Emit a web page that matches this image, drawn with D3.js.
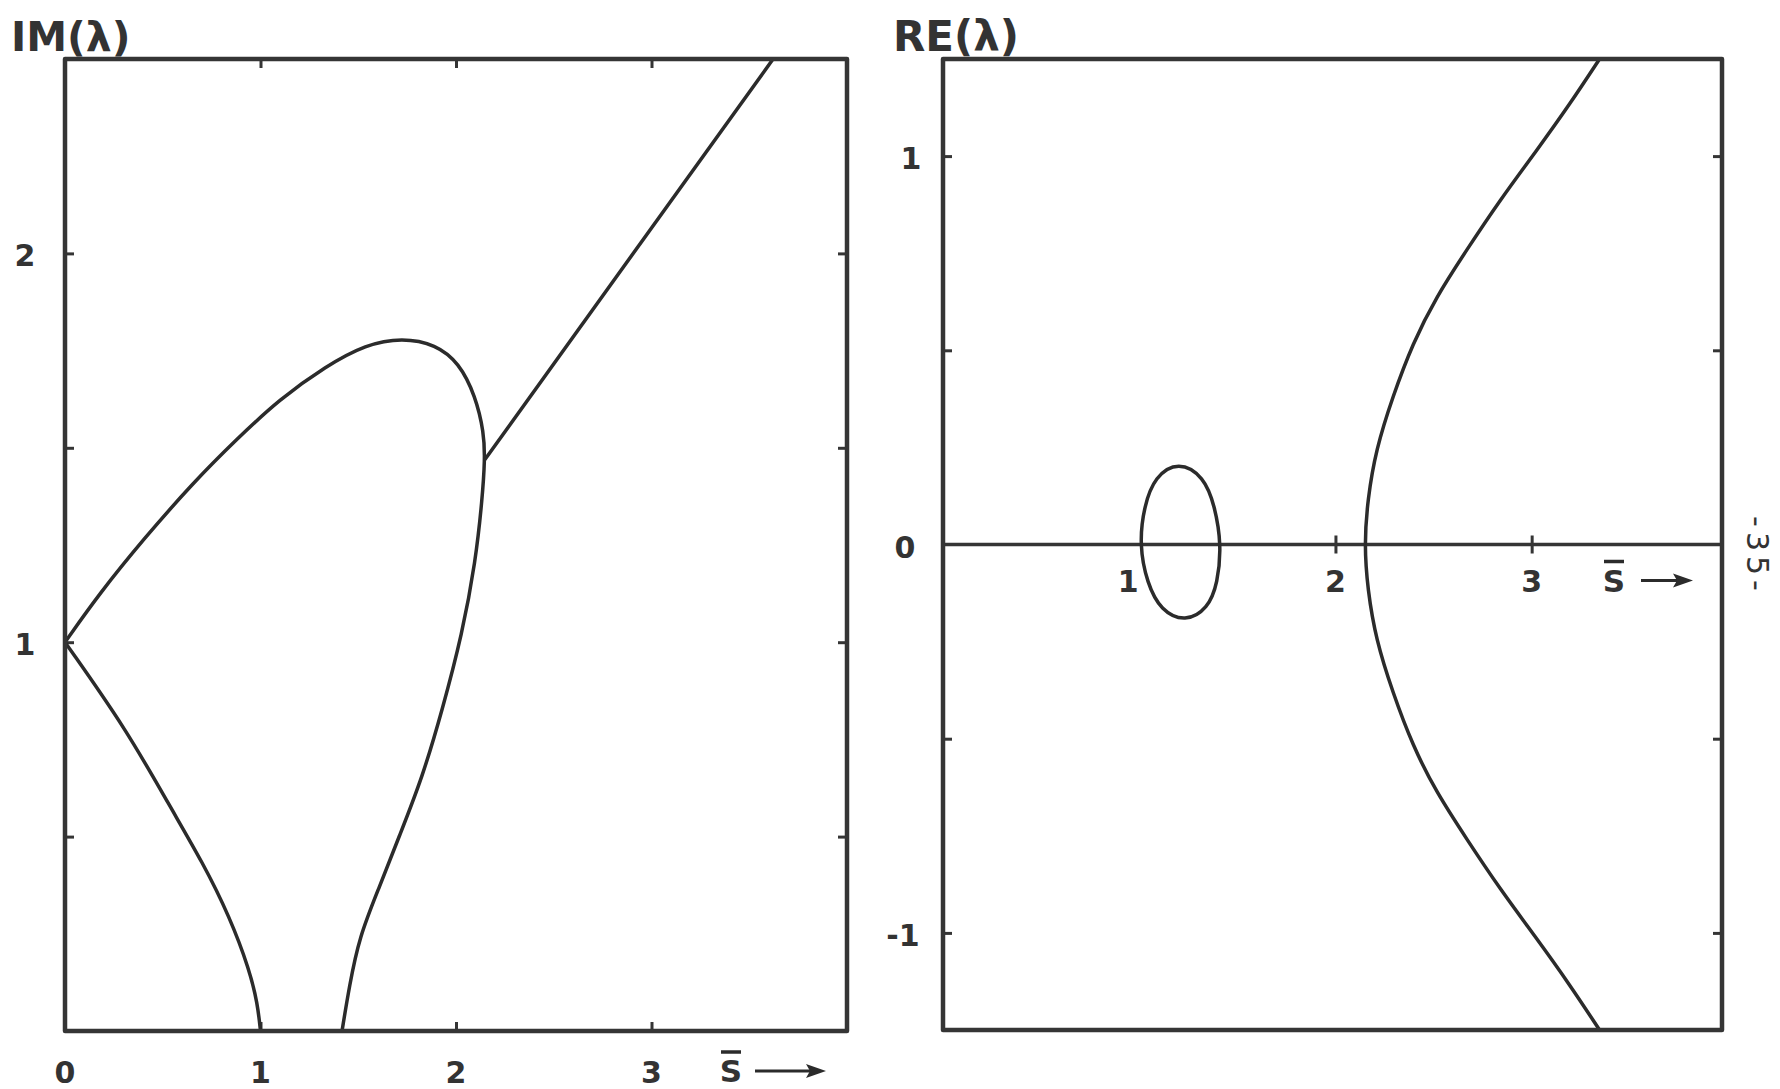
<!DOCTYPE html>
<html>
<head>
<meta charset="utf-8">
<script src="https://cdn.jsdelivr.net/npm/d3@7/dist/d3.min.js"></script>
<style>
  html, body { margin: 0; padding: 0; background: #fff; }
  svg { display: block; }
  .lbl { font-family: "DejaVu Sans", sans-serif; font-weight: bold; fill: #333; }
</style>
</head>
<body>
<svg id="chart" width="1780" height="1089"></svg>
<script>
// ---- Imaginary part of lambda versus S-bar (left panel) ----
// Branch rising from (0,1), looping round and falling to the axis at S ≈ 1.42
const imLoopS  = [0, 0.179, 0.4, 0.655, 0.876, 1.097, 1.335, 1.539, 1.726, 1.896, 2.015, 2.1, 2.143, 2.148, 2.134, 2.1, 2.032, 1.93, 1.828, 1.709, 1.607, 1.505, 1.454, 1.417];
const imLoopIm = [1, 1.127, 1.264, 1.41, 1.521, 1.625, 1.71, 1.766, 1.783, 1.766, 1.719, 1.633, 1.539, 1.47, 1.367, 1.207, 1.022, 0.826, 0.652, 0.5, 0.369, 0.242, 0.114, 0];
// Branch falling from (0,1) to the axis at S = 1
const imLowS  = [0, 0.315, 0.536, 0.706, 0.842, 0.944, 0.985, 1.0];
const imLowIm = [1, 0.775, 0.578, 0.432, 0.294, 0.157, 0.07, 0];
// Straight branch leaving the loop at S ≈ 2.15
const imLineS  = [2.148, 3.622];
const imLineIm = [1.47, 2.5];

// ---- Real part of lambda versus S-bar (right panel) ----
// Closed oval between S = 1 and S ≈ 1.42
const reOvalS  = [1.0, 1.025, 1.08, 1.2, 1.33, 1.385, 1.419, 1.4, 1.35, 1.235, 1.11, 1.04];
const reOvalRe = [0, 0.1, 0.175, 0.215, 0.175, 0.1, 0, -0.1, -0.165, -0.2, -0.17, -0.1];
// Hyperbola-like branch with its vertex at S ≈ 2.15
const reHypS  = [3.346, 3.195, 3.025, 2.837, 2.667, 2.513, 2.394, 2.292, 2.206, 2.164, 2.147, 2.164, 2.206, 2.292, 2.394, 2.513, 2.667, 2.837, 3.025, 3.195, 3.346];
const reHypRe = [-1.25, -1.134, -1.014, -0.886, -0.757, -0.637, -0.518, -0.381, -0.244, -0.1155, 0, 0.1155, 0.244, 0.381, 0.518, 0.637, 0.757, 0.886, 1.014, 1.134, 1.25];

// ---- Tick values and labels ----
const imXTicks   = [1, 2, 3];
const imXLabels  = ["0", "1", "2", "3"];
const imYTicks   = [0.5, 1, 1.5, 2];
const imYLabels  = ["1", "2"];
const reXTicks   = [2, 3];
const reXLabels  = ["1", "2", "3"];
const reYTicks   = [-1, -0.5, 0.5, 1];
const reYLabels  = ["-1", "0", "1"];

const svg = d3.select("#chart");
const ink = "#2b2b2b";
const frameInk = "#353535";

const zip = (a, b) => a.map((v, i) => [v, b[i]]);

function panel(cfg) {
  const { x, y, id } = cfg;
  const g = svg.append("g");
  const [x0, x1] = x.range();
  const [y0, y1] = y.range(); // y0 bottom, y1 top
  g.append("clipPath").attr("id", id)
    .append("rect").attr("x", x0).attr("y", y1).attr("width", x1 - x0).attr("height", y0 - y1);
  return { g, x0, x1, y0, y1 };
}

function frame(p) {
  p.g.append("rect")
    .attr("x", p.x0).attr("y", p.y1)
    .attr("width", p.x1 - p.x0).attr("height", p.y0 - p.y1)
    .attr("fill", "none").attr("stroke", frameInk).attr("stroke-width", 4.5)
    .attr("stroke-linejoin", "round");
}

function styleAxis(sel) {
  sel.select(".domain").remove();
  sel.selectAll(".tick line").attr("stroke", frameInk).attr("stroke-width", 3);
  sel.selectAll(".tick text").remove();
}

// S-bar label (S with an overbar) followed by an arrow
function sBar(g, cx, cy, arrowFrom, arrowTo) {
  g.append("text").attr("class", "lbl")
    .attr("x", cx).attr("y", cy + 11)
    .attr("text-anchor", "middle")
    .attr("font-size", 31).text("S");
  g.append("line")
    .attr("x1", cx - 10).attr("x2", cx + 10)
    .attr("y1", cy - 19).attr("y2", cy - 19)
    .attr("stroke", ink).attr("stroke-width", 3.5);
  g.append("line")
    .attr("x1", arrowFrom).attr("x2", arrowTo - 14)
    .attr("y1", cy).attr("y2", cy)
    .attr("stroke", ink).attr("stroke-width", 3);
  g.append("path")
    .attr("d", `M${arrowTo},${cy} L${arrowTo - 20},${cy - 7} L${arrowTo - 16},${cy} L${arrowTo - 20},${cy + 7} Z`)
    .attr("fill", ink);
}

const smooth = d3.line().curve(d3.curveBasis);
const smoothClosed = d3.line().curve(d3.curveBasisClosed);

// ================= Left panel: IM(λ) =================
const xL = d3.scaleLinear().domain([0, 4]).range([65, 847]);
const yL = d3.scaleLinear().domain([0, 2.5]).range([1031, 59]);
const pL = panel({ x: xL, y: yL, id: "clipL" });

// inward ticks on all four sides
pL.g.append("g").attr("transform", `translate(0,${pL.y1})`)
  .call(d3.axisTop(xL).tickValues(imXTicks).tickSizeInner(-9).tickSizeOuter(0)).call(styleAxis);
pL.g.append("g").attr("transform", `translate(0,${pL.y0})`)
  .call(d3.axisBottom(xL).tickValues(imXTicks).tickSizeInner(-9).tickSizeOuter(0)).call(styleAxis);
pL.g.append("g").attr("transform", `translate(${pL.x0},0)`)
  .call(d3.axisLeft(yL).tickValues(imYTicks).tickSizeInner(-9).tickSizeOuter(0)).call(styleAxis);
pL.g.append("g").attr("transform", `translate(${pL.x1},0)`)
  .call(d3.axisRight(yL).tickValues(imYTicks).tickSizeInner(-9).tickSizeOuter(0)).call(styleAxis);

const curvesL = pL.g.append("g").attr("clip-path", "url(#clipL)")
  .attr("fill", "none").attr("stroke", ink).attr("stroke-width", 3.5)
  .attr("stroke-linecap", "round").attr("stroke-linejoin", "round");
curvesL.append("path").attr("d", smooth(zip(imLoopS, imLoopIm).map(d => [xL(d[0]), yL(d[1])])));
curvesL.append("path").attr("d", smooth(zip(imLowS, imLowIm).map(d => [xL(d[0]), yL(d[1])])));
curvesL.append("path").attr("d", d3.line()(zip(imLineS, imLineIm).map(d => [xL(d[0]), yL(d[1])])));
frame(pL);

// labels
pL.g.selectAll(".xl").data(imXLabels).join("text").attr("class", "lbl")
  .attr("x", (d) => xL(+d)).attr("y", yL(0) + 52)
  .attr("text-anchor", "middle")
  .attr("font-size", 30).text(d => d);
pL.g.selectAll(".yl").data(imYLabels).join("text").attr("class", "lbl")
  .attr("x", xL(0) - 40).attr("y", d => yL(+d) + 13)
  .attr("text-anchor", "middle")
  .attr("font-size", 30).text(d => d);
pL.g.append("text").attr("class", "lbl")
  .attr("x", 11).attr("y", 51).attr("font-size", 41)
  .text("IM(λ)");
sBar(pL.g, 731, yL(0) + 40, 755, 826);

// ================= Right panel: RE(λ) =================
const xR = d3.scaleLinear().domain([0, 3.97]).range([943, 1722]);
const yR = d3.scaleLinear().domain([-1.25, 1.25]).range([1030, 59]);
const pR = panel({ x: xR, y: yR, id: "clipR" });

pR.g.append("g").attr("transform", `translate(${pR.x0},0)`)
  .call(d3.axisLeft(yR).tickValues(reYTicks).tickSizeInner(-9).tickSizeOuter(0)).call(styleAxis);
pR.g.append("g").attr("transform", `translate(${pR.x1},0)`)
  .call(d3.axisRight(yR).tickValues(reYTicks).tickSizeInner(-9).tickSizeOuter(0)).call(styleAxis);

// zero line with crossing ticks
pR.g.append("line")
  .attr("x1", pR.x0).attr("x2", pR.x1).attr("y1", yR(0)).attr("y2", yR(0))
  .attr("stroke", frameInk).attr("stroke-width", 3.5);
pR.g.append("g").attr("transform", `translate(0,${yR(0) - 9})`)
  .call(d3.axisBottom(xR).tickValues(reXTicks).tickSizeInner(18).tickSizeOuter(0)).call(styleAxis);

const curvesR = pR.g.append("g").attr("clip-path", "url(#clipR)")
  .attr("fill", "none").attr("stroke", ink).attr("stroke-width", 3.5)
  .attr("stroke-linecap", "round").attr("stroke-linejoin", "round");
curvesR.append("path").attr("d", smoothClosed(zip(reOvalS, reOvalRe).map(d => [xR(d[0]), yR(d[1])])));
curvesR.append("path").attr("d", smooth(zip(reHypS, reHypRe).map(d => [xR(d[0]), yR(d[1])])));
frame(pR);

// labels
const reXLabelPos = { "1": xR(1) - 11, "2": xR(2), "3": xR(3) };
pR.g.selectAll(".xl").data(reXLabels).join("text").attr("class", "lbl")
  .attr("x", d => reXLabelPos[d]).attr("y", yR(0) + 47)
  .attr("text-anchor", "middle")
  .attr("font-size", 30).text(d => d);
pR.g.selectAll(".yl").data(reYLabels).join("text").attr("class", "lbl")
  .attr("x", d => xR(0) - (d === "-1" ? 40 : d === "0" ? 38 : 32)).attr("y", d => yR(+d) + 13)
  .attr("text-anchor", "middle")
  .attr("font-size", 30).text(d => d);
pR.g.append("text").attr("class", "lbl")
  .attr("x", 893).attr("y", 51).attr("font-size", 42)
  .text("RE(λ)");
sBar(pR.g, 1614, yR(0) + 36, 1641, 1693);

// page number, set sideways in the margin
svg.append("text").attr("class", "lbl").style("font-weight", "normal")
  .attr("transform", "translate(1757,556) rotate(90)")
  .attr("text-anchor", "middle").attr("dominant-baseline", "central")
  .attr("font-size", 30).attr("letter-spacing", 5)
  .text("-35-");
</script>
</body>
</html>
